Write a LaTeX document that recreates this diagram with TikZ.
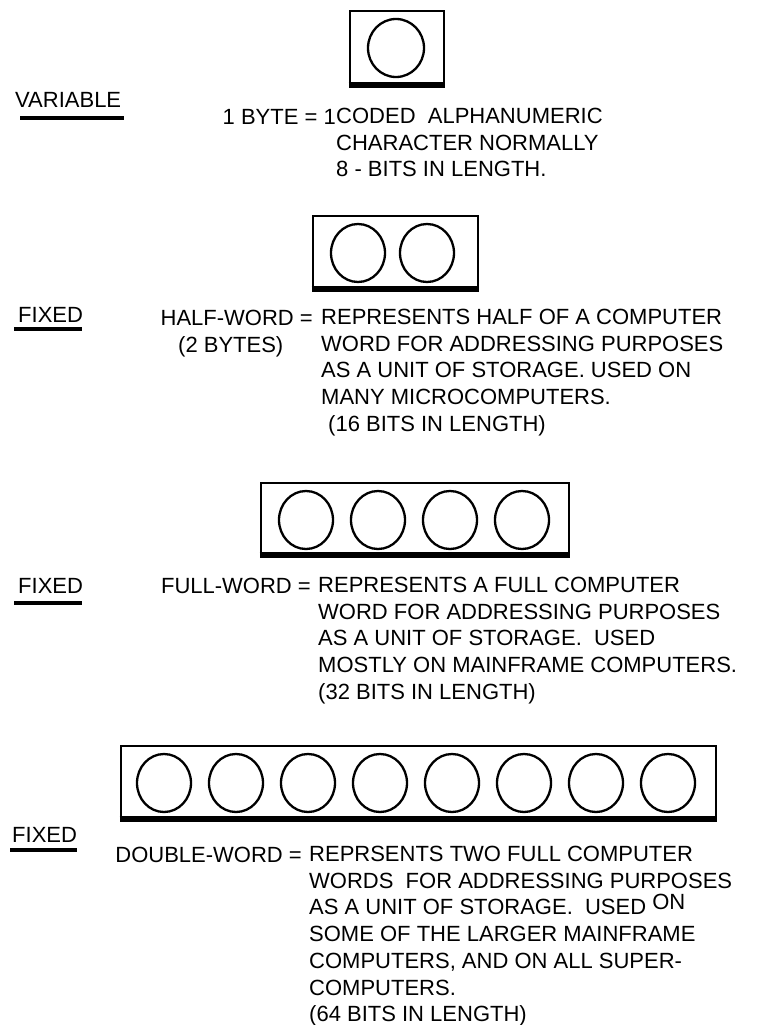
\documentclass[tikz,border=0pt]{standalone}
\usepackage{fontspec}
\setmainfont{Liberation Sans}

\begin{document}
\begin{tikzpicture}[x=1pt, y=-1pt,
    wordframe/.style={line width=2.8pt},
    shadowedge/.style={line width=6pt},
    bytering/.style={line width=2.3pt},
    txt/.style={font=\fontsize{22}{26.7}\selectfont, inner sep=0pt},
    desc/.style={txt, align=left, anchor=north west},
    term/.style={txt, anchor=base east},
    kind/.style={txt, anchor=base west},
    kindline/.style={line width=4pt}]
    \useasboundingbox (0,0) rectangle (756,1025);

    % Byte
    \draw[wordframe] (350,11) rectangle (444,85);
    \draw[shadowedge] (348.6,85) -- (445.4,85);
    \draw[bytering] (396,48) ellipse [x radius=28, y radius=29];
    \node[kind] (variable) at (15,107) {VARIABLE};
    \draw[kindline] (20,118) -- (124,118);
    \node[term] (byteterm) at (336,124) {1 BYTE = 1};
    \node[desc] (bytedesc) at (336,108) {CODED\ \ ALPHANUMERIC\\CHARACTER NORMALLY\\8 - BITS IN LENGTH.};

    % Half-word
    \draw[wordframe] (313,216) rectangle (478,289);
    \draw[shadowedge] (311.6,289) -- (479.4,289);
    \foreach \i in {0,1}
        \draw[bytering] (358+69*\i,253) ellipse [x radius=27, y radius=29];
    \node[kind] (fixedhalf) at (18,322) {FIXED};
    \draw[kindline] (14,329) -- (82,329);
    \node[term] (halfterm) at (313,325) {HALF-WORD =};
    \node[kind] (halfbytes) at (178,352) {(2 BYTES)};
    \node[desc] (halfdesc) at (321,309) {REPRESENTS HALF OF A COMPUTER\\WORD FOR ADDRESSING PURPOSES\\AS A UNIT OF STORAGE. USED ON\\MANY MICROCOMPUTERS.\\\hspace{7pt}(16 BITS IN LENGTH)};

    % Full-word
    \draw[wordframe] (261,483) rectangle (569,555);
    \draw[shadowedge] (259.6,555) -- (570.4,555);
    \foreach \i in {0,...,3}
        \draw[bytering] (306+72*\i,520) ellipse [x radius=27, y radius=29];
    \node[kind] (fixedfull) at (18,593) {FIXED};
    \draw[kindline] (14,603) -- (82,603);
    \node[term] (fullterm) at (311,593) {FULL-WORD =};
    \node[desc] (fulldesc) at (318,577) {REPRESENTS A FULL COMPUTER\\WORD FOR ADDRESSING PURPOSES\\AS A UNIT OF STORAGE.\ \ USED\\MOSTLY ON MAINFRAME COMPUTERS.\\(32 BITS IN LENGTH)};

    % Double-word
    \draw[wordframe] (121,746) rectangle (716,819);
    \draw[shadowedge] (119.6,819) -- (717.4,819);
    \foreach \i in {0,...,7}
        \draw[bytering] (164+72*\i,783) ellipse [x radius=27, y radius=29];
    \node[kind] (fixeddouble) at (12,842) {FIXED};
    \draw[kindline] (10,850) -- (77,850);
    \node[term] (doubleterm) at (302,862) {DOUBLE-WORD =};
    \node[desc] (doubledesc) at (309,846) {REPRSENTS TWO FULL COMPUTER\\WORDS\ \ FOR ADDRESSING PURPOSES\\AS A UNIT OF STORAGE.\ \ USED \raisebox{5pt}{ON}\\SOME OF THE LARGER MAINFRAME\\COMPUTERS, AND ON ALL SUPER-\\COMPUTERS.\\(64 BITS IN LENGTH)};
\end{tikzpicture}
\end{document}
